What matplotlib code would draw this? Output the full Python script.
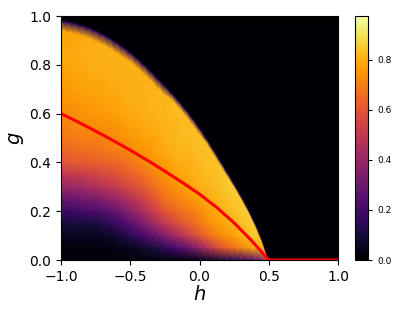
import numpy as np
import matplotlib
matplotlib.use("Agg")
import matplotlib.pyplot as plt

# --- sampling of the heat map ---
h_cols = np.linspace(-1.0, 1.0, 41)      # columns, step 0.05
g_rows = np.linspace(0.0, 1.0, 21)       # rows, step 0.05

# upper edge of the bright region for h = -1.00 ... 0.50 (black above it)
g_edge = [0.980, 0.975, 0.968, 0.960, 0.950, 0.938, 0.924, 0.908, 0.890, 0.870,
          0.848, 0.824, 0.798, 0.770, 0.740, 0.712, 0.682, 0.650, 0.616, 0.579,
          0.540, 0.497, 0.452, 0.406, 0.359, 0.311, 0.262, 0.210, 0.152, 0.085, 0.0]
# thickness of the dark rim just under that edge
rim = [0.04] * 10 + [0.035] * 6 + [0.025] * 5 + [0.018] * 4 + [0.012] * 5 + [0.0]
rim_value = 0.15

# values, one list per h column (g = 0, 0.05, ...),
# up to the start of the rim
cols = [
    [0.02, 0.03, 0.05, 0.10, 0.18, 0.28, 0.39, 0.49, 0.60, 0.65, 0.68, 0.71, 0.72, 0.74, 0.76, 0.77, 0.78, 0.79, 0.78],
    [0.02, 0.03, 0.05, 0.10, 0.18, 0.29, 0.40, 0.50, 0.60, 0.65, 0.69, 0.71, 0.73, 0.75, 0.76, 0.77, 0.78, 0.79, 0.78],
    [0.02, 0.03, 0.05, 0.10, 0.19, 0.30, 0.41, 0.51, 0.61, 0.66, 0.69, 0.72, 0.73, 0.75, 0.77, 0.78, 0.79, 0.79, 0.78],
    [0.02, 0.03, 0.05, 0.10, 0.20, 0.31, 0.42, 0.52, 0.61, 0.66, 0.70, 0.72, 0.74, 0.76, 0.77, 0.78, 0.79, 0.80, 0.79],
    [0.02, 0.03, 0.05, 0.11, 0.21, 0.32, 0.44, 0.53, 0.62, 0.67, 0.70, 0.73, 0.75, 0.76, 0.78, 0.79, 0.80, 0.80, 0.80],
    [0.02, 0.03, 0.05, 0.11, 0.22, 0.33, 0.45, 0.54, 0.62, 0.67, 0.70, 0.73, 0.75, 0.77, 0.78, 0.79, 0.80, 0.80, 0.79],
    [0.02, 0.03, 0.06, 0.13, 0.24, 0.35, 0.47, 0.56, 0.63, 0.68, 0.71, 0.74, 0.76, 0.77, 0.78, 0.79, 0.80, 0.80],
    [0.02, 0.03, 0.07, 0.15, 0.26, 0.38, 0.49, 0.57, 0.64, 0.69, 0.72, 0.74, 0.76, 0.78, 0.79, 0.80, 0.80, 0.80],
    [0.02, 0.04, 0.09, 0.18, 0.29, 0.40, 0.51, 0.59, 0.65, 0.70, 0.73, 0.75, 0.77, 0.78, 0.79, 0.80, 0.80, 0.80],
    [0.02, 0.04, 0.11, 0.21, 0.32, 0.43, 0.53, 0.61, 0.66, 0.71, 0.74, 0.76, 0.78, 0.79, 0.80, 0.80, 0.80],
    [0.02, 0.05, 0.15, 0.26, 0.37, 0.47, 0.56, 0.63, 0.68, 0.72, 0.75, 0.77, 0.79, 0.80, 0.80, 0.80, 0.80],
    [0.02, 0.06, 0.18, 0.30, 0.41, 0.50, 0.59, 0.65, 0.70, 0.74, 0.76, 0.78, 0.79, 0.80, 0.80, 0.80],
    [0.02, 0.08, 0.22, 0.35, 0.45, 0.54, 0.62, 0.67, 0.72, 0.75, 0.77, 0.79, 0.80, 0.80, 0.81, 0.80],
    [0.02, 0.10, 0.26, 0.40, 0.50, 0.58, 0.65, 0.70, 0.74, 0.76, 0.78, 0.80, 0.80, 0.81, 0.81],
    [0.03, 0.12, 0.30, 0.45, 0.55, 0.63, 0.68, 0.72, 0.75, 0.78, 0.79, 0.80, 0.81, 0.81, 0.81],
    [0.03, 0.16, 0.35, 0.50, 0.60, 0.67, 0.71, 0.74, 0.77, 0.79, 0.80, 0.81, 0.81, 0.81],
    [0.03, 0.19, 0.40, 0.54, 0.63, 0.69, 0.73, 0.76, 0.78, 0.80, 0.81, 0.81, 0.82, 0.82],
    [0.03, 0.23, 0.45, 0.58, 0.66, 0.71, 0.75, 0.78, 0.80, 0.81, 0.82, 0.82, 0.82],
    [0.04, 0.27, 0.50, 0.62, 0.68, 0.73, 0.77, 0.79, 0.80, 0.81, 0.82, 0.82],
    [0.04, 0.32, 0.55, 0.65, 0.70, 0.75, 0.78, 0.80, 0.81, 0.82, 0.83, 0.83],
    [0.05, 0.38, 0.60, 0.68, 0.73, 0.77, 0.80, 0.81, 0.82, 0.83, 0.83],
    [0.07, 0.45, 0.65, 0.72, 0.76, 0.79, 0.81, 0.82, 0.83, 0.83],
    [0.09, 0.52, 0.69, 0.75, 0.78, 0.80, 0.82, 0.83, 0.83],
    [0.11, 0.58, 0.72, 0.77, 0.80, 0.82, 0.83, 0.84],
    [0.13, 0.63, 0.75, 0.79, 0.82, 0.83, 0.85],
    [0.15, 0.67, 0.77, 0.81, 0.83, 0.85],
    [0.18, 0.71, 0.80, 0.83, 0.85],
    [0.22, 0.75, 0.82, 0.85],
    [0.28, 0.79, 0.85],
    [0.35, 0.82],
    [0.60],
]

# red curve
h_line = [-1.0, -0.875, -0.75, -0.625, -0.5, -0.375, -0.25, -0.125, 0.0, 0.125, 0.25, 0.375, 0.5, 1.0]
g_line = [0.600, 0.565, 0.528, 0.490, 0.450, 0.408, 0.364, 0.318, 0.270, 0.215, 0.152, 0.080, 0.0, 0.0]

# mesh whose upper rows follow the edge, so the edge stays smooth;
# columns right of h = 0.5 are all black
nrow = len(g_rows) + 3
X = np.tile(h_cols, (nrow, 1))
Y = np.zeros((nrow, len(h_cols)))
V = np.zeros((nrow, len(h_cols)))
for j in range(len(h_cols)):
    if j < len(cols):
        c, top, lim, rv = cols[j], g_edge[j], max(g_edge[j] - rim[j], 0.0), rim_value
    else:
        c, top, lim, rv = [0.0], 0.0, 0.0, 0.0
    for i, g in enumerate(g_rows):
        Y[i, j] = min(g, lim)
        V[i, j] = c[i] if i < len(c) else c[-1]
    Y[-3, j], V[-3, j] = top, rv
    Y[-2, j], V[-2, j] = top + 0.008, 0.0
    Y[-1, j], V[-1, j] = 1.0, 0.0

fig = plt.figure(figsize=(4.17, 3.13), dpi=100)
ax = fig.add_axes([61 / 417, 53 / 313, 277 / 417, 244 / 313])
cax = fig.add_axes([355 / 417, 53 / 313, 13 / 417, 244 / 313])

mesh = ax.pcolormesh(X, Y, V, shading='gouraud', cmap='inferno', vmin=0.0, vmax=0.975)
ax.plot(h_line, g_line, color='red', lw=2.2)

ax.set_xlim(-1, 1)
ax.set_ylim(0, 1)
ax.set_xticks([-1.0, -0.5, 0.0, 0.5, 1.0])
ax.set_yticks([0.0, 0.2, 0.4, 0.6, 0.8, 1.0])
ax.tick_params(labelsize=10)
ax.set_xlabel(r'$h$', fontsize=14, labelpad=1)
ax.set_ylabel(r'$g$', fontsize=14, labelpad=2)

cb = fig.colorbar(mesh, cax=cax)
cb.set_ticks([0.0, 0.2, 0.4, 0.6, 0.8])
cb.ax.tick_params(labelsize=6.5, length=3)

fig.savefig('out.png', dpi=100)
